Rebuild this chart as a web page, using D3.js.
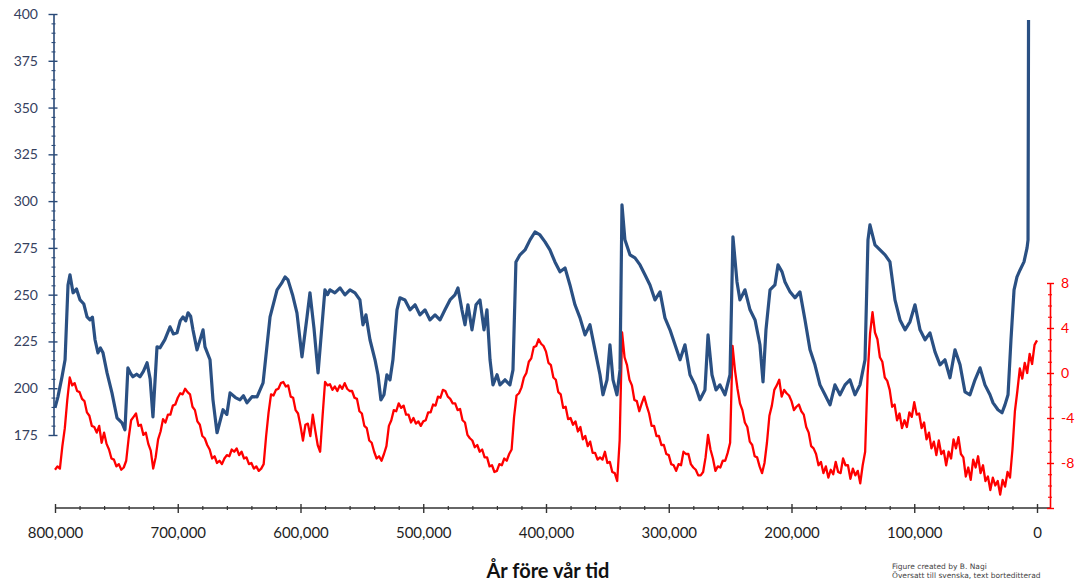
<!DOCTYPE html>
<html><head><meta charset="utf-8">
<script src="https://cdn.jsdelivr.net/npm/d3@7"></script>
<style>
html,body{margin:0;padding:0;background:#fff;}
svg{display:block;}
text{font-family:Lato,"Open Sans",sans-serif;}
</style></head><body>
<svg id="chart" width="1077" height="585"></svg>
<script>
// ---------- tick labels ----------
const xTickValues = [800, 700, 600, 500, 400, 300, 200, 100, 0]; // thousand years before present
const xTickLabels = ["800,000","700,000","600,000","500,000","400,000","300,000","200,000","100,000","0"];
const co2TickValues = [175, 200, 225, 250, 275, 300, 325, 350, 375, 400];
const tempTickValues = [8, 4, 0, -4, -8];
const tempTickLabels = ["8", "4", "0", "-4", "-8"];
const xTitle = "År före vår tid";
const credits = ["Figure created by B. Nagi", "Översatt till svenska, text borteditterad"];

// ---------- CO2 (ppm), age in kyr ----------
const co2Ages = [800,797.6,794.3,791.8,789.4,787.8,785.3,782.5,779.6,776.5,773.9,771.5,769.5,767.4,765,763,760.9,757.6,753.6,749.5,
745.4,743,740.6,738.5,736.5,733.5,730.8,728,725,722.5,720.2,716.9,714.5,710.5,706.3,703.5,700.6,698,695.7,693.5,
691.6,689.5,687.6,684.3,679.4,677.8,673.7,671.3,668,663.1,660,657.4,653,649.3,646.5,643.6,639.5,635.4,630.5,624.8,
619.1,615.5,612.6,610.2,606.5,602.9,598.8,594.7,592.3,589,585.7,580.1,578,576,572,567.8,563.8,559.7,555.6,551.6,
549.1,546.7,543.4,539.3,536.9,534.5,532,529.6,527.1,524.7,521.4,519,514.9,510.8,506.7,502.7,498.6,494.5,490.4,486.4,
482.3,478.2,474.2,471.7,468.5,466,463.6,460.3,457,453.8,450.5,448.1,445.6,443.2,439.9,437.5,433.4,429.4,426.9,424.5,
421.2,417.1,413,409,404.9,400.8,396.8,392.7,388.6,384.5,380.5,376.4,372.3,368.2,364.2,360.1,356,353.6,350.3,347.9,
345.4,342.2,339.7,338.1,335.7,331.6,327.5,323.4,319.4,315.3,311.2,307.1,303.1,299,294.9,290.8,286.8,282.7,278.6,274.6,
270.5,268,264.8,261.5,258.3,254.2,250.1,247.7,244.4,242,237.9,233.8,229.7,225.7,223.2,220.8,217.5,213.5,211,207.7,
205.3,201.2,197.2,193.1,189,184.9,180.9,176.8,172.7,168.6,164.6,160.5,156.4,152.4,148.3,144.2,140.1,137.7,136.1,132,
127.9,123.8,119.8,115.7,111.6,107.5,103.5,99.4,95.3,91.2,87.2,83.1,79,75,70.9,66.8,62.7,58.7,54.6,50.5,
46.4,42.4,38.3,35.8,31.8,28.5,26.1,23.6,21.2,18.7,16.3,13.8,10.6,8.1,7.3,6.9];
const co2Values = [189.5,195.4,206.1,215.2,255.2,260.6,251.0,253.0,247.2,245.0,238.1,236.5,238.0,225.9,218.9,221.5,218.9,208.2,197.5,184.2,
181.5,177.8,210.9,208.0,206.1,207.5,206.1,209.0,213.6,205.0,184.7,222.1,221.6,226.0,232.8,229.0,229.6,236.0,238.1,236.0,
240.3,238.5,231.2,220.5,231.2,222.1,215.2,193.8,176.2,188.5,186.0,197.5,195.0,193.8,196.0,192.2,195.5,195.4,202.9,238.1,
252.6,256.0,259.5,257.9,250.0,240.3,216.8,238.1,251.0,232.0,208.2,252.6,250.0,252.6,251.0,253.6,249.9,252.6,251.0,247.2,
233.9,239.2,225.9,215.2,207.2,193.8,196.5,207.2,204.5,215.2,241.9,248.3,247.2,241.9,244.6,239.2,241.9,236.5,239.2,236.5,
241.9,247.2,249.9,253.6,241.9,233.9,244.6,231.2,244.6,247.2,231.2,241.9,215.2,201.8,207.2,201.8,204.5,201.8,209.8,267.5,
271.3,273.9,279.3,283.5,281.9,278.2,273.9,267.5,262.2,264.3,255.2,244.6,237.6,228.5,233.9,220.5,207.2,196.5,204.5,223.2,
204.5,196.5,209.8,298.0,279.3,271.3,269.7,265.9,260.6,255.2,247.2,251.5,237.6,231.2,223.2,215.2,223.2,207.2,201.8,193.8,
199.1,228.5,207.2,199.1,201.8,196.5,207.2,280.9,256.8,247.2,252.6,241.9,236.5,223.2,203.4,231.2,252.6,255.2,265.9,262.2,
256.8,251.5,248.3,251.5,236.5,220.5,212.5,201.8,196.5,191.1,201.8,196.5,201.8,204.5,196.5,201.8,215.2,279.3,287.3,276.6,
273.9,271.3,267.5,247.2,236.5,231.2,235.5,244.6,231.2,225.9,229.6,219.4,212.5,215.2,205.6,220.5,212.5,198.1,196.5,204.5,
210.9,201.8,196.5,192.2,188.5,186.9,191.1,196.5,225.9,252.6,259.5,263.2,267.5,275.0,279.3,396.8];

// ---------- Temperature anomaly (°C), age in kyr ----------
const tempAges = [800,798,796,794,792,790,788,786,784,782,780,778,776,774,772,770,768,766,764,762,
760,758,756,754,752,750,748,746,744,742,740,738,736,734,732,730,728,726,724,722,
720,718,716,714,712,710,708,706,704,702,700,698,696,694,692,690,688,686,684,682,
680,678,676,674,672,670,668,666,664,662,660,658,656,654,652,650,648,646,644,642,
640,638,636,634,632,630,628,626,624,622,620,618,616,614,612,610,608,606,604,602,
600,598,596,594,592,590,588,586,584,582,580,578,576,574,572,570,568,566,564,562,
560,558,556,554,552,550,548,546,544,542,540,538,536,534,532,530,528,526,524,522,
520,518,516,514,512,510,508,506,504,502,500,498,496,494,492,490,488,486,484,482,
480,478,476,474,472,470,468,466,464,462,460,458,456,454,452,450,448,446,444,442,
440,438,436,434,432,430,428,426,424,422,420,418,416,414,412,410,408,406,404,402,
400,398,396,394,392,390,388,386,384,382,380,378,376,374,372,370,368,366,364,362,
360,358,356,354,352,350,348,346,344,342,340,338,336,334,332,330,328,326,324,322,
320,318,316,314,312,310,308,306,304,302,300,298,296,294,292,290,288,286,284,282,
280,278,276,274,272,270,268,266,264,262,260,258,256,254,252,250,248,246,244,242,
240,238,236,234,232,230,228,226,224,222,220,218,216,214,212,210,208,206,204,202,
200,198,196,194,192,190,188,186,184,182,180,178,176,174,172,170,168,166,164,162,
160,158,156,154,152,150,148,146,144,142,140,138,136,134,132,130,128,126,124,122,
120,118,116,114,112,110,108,106,104,102,100,98,96,94,92,90,88,86,84,82,
80,78,76,74,72,70,68,66,64,62,60,58,56,54,52,50,48,46,44,42,
40,38,36,34,32,30,28,26,24,22,20,18,16,14,12,10,8,6,4,2,0];
const tempValues = [-8.6,-8.3,-8.5,-6.5,-4.9,-2.4,-0.4,-1.1,-0.9,-1.6,
-1.7,-2.3,-2.5,-3.5,-3.8,-4.7,-4.8,-5.3,-4.7,-6.2,
-5.3,-6.3,-6.8,-7.6,-7.7,-8.3,-8.1,-8.6,-8.4,-7.8,
-5.8,-4.2,-3.9,-3.6,-4.7,-4.6,-5.5,-5.3,-6.3,-6.9,
-8.5,-7.5,-5.9,-5.2,-4.1,-4.4,-3.7,-3.7,-2.9,-2.8,
-2.2,-1.8,-1.9,-1.4,-1.7,-1.9,-3.0,-3.3,-4.3,-4.6,
-5.6,-5.8,-6.4,-6.8,-7.6,-7.4,-8.0,-7.8,-8.1,-7.6,
-7.3,-7.4,-6.8,-7.0,-6.7,-7.3,-7.0,-7.6,-7.5,-8.1,
-8.0,-8.5,-8.3,-8.7,-8.5,-8.1,-5.6,-3.5,-1.9,-2.0,
-1.5,-1.4,-0.9,-0.8,-1.2,-1.1,-2.1,-2.2,-3.3,-3.6,
-4.7,-6.0,-4.6,-4.5,-5.6,-3.7,-5.1,-6.4,-7.0,-3.8,
-0.8,-1.1,-1.0,-1.5,-1.2,-1.6,-1.1,-1.4,-0.9,-1.4,
-1.6,-1.6,-2.2,-2.3,-3.4,-3.6,-4.7,-4.9,-6.0,-6.2,
-7.0,-7.6,-7.4,-7.8,-7.2,-6.5,-4.7,-4.2,-3.3,-3.4,
-2.7,-3.1,-2.9,-3.7,-3.7,-4.4,-4.0,-4.5,-4.3,-4.7,
-4.3,-4.2,-3.5,-3.5,-2.8,-2.9,-2.1,-2.2,-1.5,-1.6,
-2.1,-2.3,-2.7,-2.7,-3.3,-3.2,-4.2,-4.4,-5.5,-5.8,
-6.0,-6.6,-6.4,-7.0,-6.8,-7.5,-7.5,-8.3,-8.2,-8.8,
-8.7,-8.1,-8.2,-7.6,-7.8,-7.2,-6.8,-3.9,-2.0,-1.8,
-1.3,-0.4,0.0,1.0,1.3,2.3,2.4,3.0,2.6,2.4,
1.9,0.9,0.7,-0.4,-0.6,-1.7,-1.9,-3.1,-3.0,-4.1,
-4.0,-4.6,-4.3,-5.2,-4.8,-5.9,-5.6,-6.5,-6.1,-7.1,
-7.1,-7.7,-7.5,-7.7,-7.0,-8.0,-7.9,-8.8,-8.9,-9.6,
-6.0,3.6,1.4,0.7,-0.6,-1.1,-2.4,-2.5,-3.4,-2.7,
-2.1,-2.9,-3.6,-4.7,-4.7,-5.6,-5.6,-6.4,-6.4,-7.2,
-7.3,-8.1,-8.2,-8.7,-8.1,-8.2,-7.0,-7.2,-7.2,-8.1,
-8.4,-8.6,-9.1,-9.1,-8.8,-7.5,-5.5,-6.8,-7.6,-8.7,
-8.3,-8.4,-7.8,-7.8,-7.1,-6.2,2.4,0.2,-1.4,-2.7,
-3.3,-4.4,-4.8,-6.1,-6.4,-7.4,-7.5,-8.3,-8.9,-8.0,
-6.2,-3.8,-2.9,-1.5,-1.1,-0.6,-2.1,-1.5,-1.8,-2.0,
-2.5,-3.3,-3.0,-2.8,-3.4,-3.7,-4.8,-5.3,-6.5,-6.7,
-7.2,-8.2,-7.9,-8.9,-8.3,-9.3,-8.6,-9.0,-7.9,-8.8,
-8.9,-7.6,-8.2,-8.2,-9.4,-8.5,-9.1,-8.7,-9.8,-8.2,
-7.0,-0.2,3.5,5.4,3.6,3.0,1.4,1.0,-0.4,-0.7,
-1.5,-3.0,-2.8,-4.2,-3.6,-4.9,-4.2,-4.8,-3.5,-3.9,
-2.6,-3.7,-3.6,-4.9,-4.4,-5.9,-5.3,-6.7,-6.1,-7.3,
-6.0,-7.2,-6.9,-8.2,-7.0,-7.6,-5.9,-6.7,-5.7,-7.2,
-7.5,-9.2,-8.4,-9.5,-7.7,-8.4,-7.4,-8.9,-8.2,-9.6,
-9.2,-10.4,-9.3,-10.0,-9.6,-10.8,-9.5,-10.1,-8.8,-9.3,
-6.8,-3.4,-1.6,0.4,-0.5,0.9,0.0,1.7,0.8,2.5,2.9];

// ---------- layout ----------
const leftX = 53.5, rightX = 1050, bottomY = 508;
const blue = "#2a5083", red = "#ff0000";

const svg = d3.select("#chart");
const x = d3.scaleLinear().domain([800, 0]).range([55, 1037]);
const yC = d3.scaleLinear().domain([175, 400]).range([435, 14]);
const yT = d3.scaleLinear().domain([-12, 8]).range([bottomY, 283]);

// ---------- X axis ----------
const gx = svg.append("g").attr("transform", `translate(0,${bottomY})`);
gx.append("line").attr("x1", x(800)).attr("x2", rightX).attr("y1", 0).attr("y2", 0)
  .attr("stroke", "#333").attr("stroke-width", 1.6);
const xMinor = d3.range(800, -1, -20).filter(d => d % 100 !== 0);
const gxMinor = gx.append("g").call(d3.axisBottom(x).tickValues(xMinor).tickFormat("").tickSizeOuter(0));
gxMinor.select(".domain").remove();
gxMinor.selectAll(".tick line").attr("y1", -2).attr("y2", 2).attr("stroke", "#333").attr("stroke-width", 1.2);
const gxMajor = gx.append("g").call(d3.axisBottom(x).tickValues(xTickValues)
  .tickFormat((d, i) => xTickLabels[i]).tickSizeOuter(0));
gxMajor.select(".domain").remove();
gxMajor.selectAll(".tick line").attr("y1", -4).attr("y2", 5).attr("stroke", "#333").attr("stroke-width", 1.4);
gxMajor.selectAll(".tick text").attr("y", 19).attr("font-size", 15).attr("fill", "#1e1e1e")
  .style("font-family", "Lato, 'Open Sans', sans-serif");

// ---------- Left axis (CO2) ----------
const gl = svg.append("g").attr("transform", `translate(${leftX},0)`);
const co2Minor = d3.range(175, 401, 5).filter(d => d % 25 !== 0);
const glMinor = gl.append("g").call(d3.axisLeft(yC).tickValues(co2Minor).tickFormat("").tickSizeOuter(0));
glMinor.select(".domain").remove();
glMinor.selectAll(".tick line").attr("x1", -2).attr("x2", 2).attr("stroke", "#2a4a78").attr("stroke-width", 1.1);
const glMajor = gl.append("g").call(d3.axisLeft(yC).tickValues(co2TickValues).tickSizeOuter(0));
glMajor.select(".domain").attr("stroke", "#2a4a78").attr("stroke-width", 1.6);
glMajor.selectAll(".tick line").attr("x1", -5).attr("x2", 4).attr("stroke", "#2a4a78").attr("stroke-width", 1.4);
glMajor.selectAll(".tick text").attr("x", -15.5).attr("font-size", 14).attr("fill", "#36415e")
  .style("font-family", "Lato, 'Open Sans', sans-serif");

// ---------- Right axis (temperature) ----------
const gr = svg.append("g").attr("transform", `translate(${rightX},0)`);
const tMinor = d3.range(-12, 9, 1).filter(d => d % 4 !== 0);
const grMinor = gr.append("g").call(d3.axisRight(yT).tickValues(tMinor).tickFormat("").tickSizeOuter(0));
grMinor.select(".domain").remove();
grMinor.selectAll(".tick line").attr("x1", -2).attr("x2", 2).attr("stroke", red).attr("stroke-width", 1.1);
const grMajor = gr.append("g").call(d3.axisRight(yT).tickValues(tempTickValues.concat([-12]))
  .tickFormat(d => { const i = tempTickValues.indexOf(d); return i < 0 ? "" : tempTickLabels[i]; })
  .tickSizeOuter(0));
grMajor.select(".domain").attr("stroke", red).attr("stroke-width", 1.6);
grMajor.selectAll(".tick line").attr("x1", -3).attr("x2", 4).attr("stroke", red).attr("stroke-width", 1.4);
grMajor.selectAll(".tick text").attr("x", 11).attr("font-size", 14).attr("fill", red)
  .style("font-family", "Lato, 'Open Sans', sans-serif");

// ---------- Lines ----------
const tempData = tempAges.map((a, i) => ({age: a, v: tempValues[i]}));
const co2Data = co2Ages.map((a, i) => ({age: a, v: co2Values[i]}));

svg.append("path").datum(tempData)
  .attr("fill", "none").attr("stroke", red).attr("stroke-width", 2.3).attr("stroke-linejoin", "round")
  .attr("d", d3.line().x(d => x(d.age)).y(d => yT(d.v)));

svg.append("path").datum(co2Data)
  .attr("fill", "none").attr("stroke", blue).attr("stroke-width", 3.2).attr("stroke-linejoin", "round")
  .attr("d", d3.line().x(d => x(d.age)).y(d => yC(d.v)));

// ---------- Titles ----------
svg.append("text").attr("x", 548).attr("y", 578).attr("text-anchor", "middle")
  .attr("font-size", 20).attr("font-weight", "bold").attr("fill", "#111").text(xTitle);

svg.selectAll("text.credit").data(credits).enter().append("text").attr("class", "credit")
  .attr("x", 892).attr("y", (d, i) => 569 + i * 9)
  .attr("font-size", 7.5).style("font-family", "'DejaVu Sans', sans-serif").attr("fill", "#444")
  .text(d => d);
</script>
</body></html>
